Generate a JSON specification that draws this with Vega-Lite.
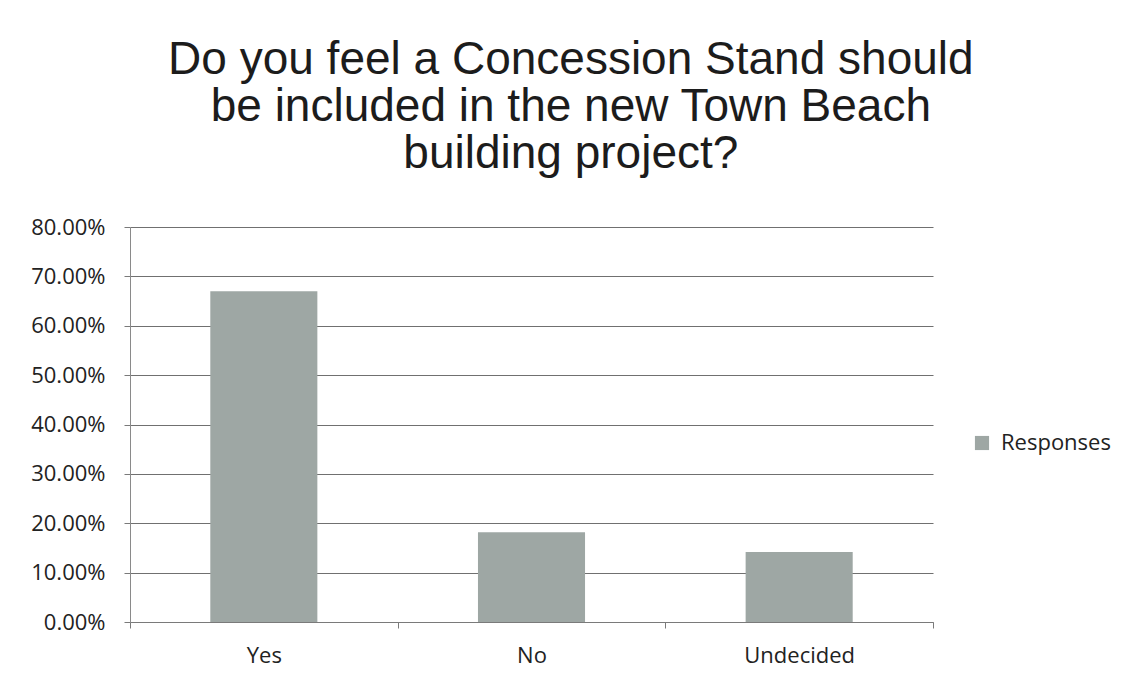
{
  "$schema": "https://vega.github.io/schema/vega-lite/v6.json",
  "width": 803,
  "height": 395,
  "padding": {"left": 30, "top": 37, "right": 10, "bottom": 10},
  "background": "white",
  "title": {
    "text": ["Do you feel a Concession Stand should", "be included in the new Town Beach", "building project?"],
    "font": "Liberation Sans, Arial, sans-serif",
    "fontSize": 46,
    "fontWeight": "normal",
    "color": "#1c1c1c",
    "lineHeight": 47,
    "anchor": "middle",
    "frame": "bounds",
    "offset": 38
  },
  "data": {
    "values": [
      {"answer": "Yes", "share": 0.67, "series": "Responses"},
      {"answer": "No", "share": 0.182, "series": "Responses"},
      {"answer": "Undecided", "share": 0.142, "series": "Responses"}
    ]
  },
  "mark": {"type": "bar", "width": {"band": 0.4}},
  "encoding": {
    "x": {
      "field": "answer",
      "type": "nominal",
      "sort": null,
      "scale": {"paddingInner": 0, "paddingOuter": 0},
      "axis": {
        "title": null,
        "labelAngle": 0,
        "tickBand": "extent",
        "ticks": true,
        "tickSize": 6,
        "tickColor": "#7a7a7a",
        "domainColor": "#7a7a7a",
        "domainWidth": 1.2,
        "labelFont": "Open Sans",
        "labelFontSize": 22,
        "labelColor": "#222222",
        "labelPadding": 17,
        "grid": false
      }
    },
    "y": {
      "field": "share",
      "type": "quantitative",
      "scale": {"domain": [0, 0.8], "nice": false},
      "axis": {
        "title": null,
        "format": ".2%",
        "values": [0, 0.1, 0.2, 0.3, 0.4, 0.5, 0.6, 0.7, 0.8],
        "grid": true,
        "gridColor": "#707070",
        "gridWidth": 1.2,
        "tickSize": 6,
        "tickColor": "#7a7a7a",
        "domainColor": "#8a8a8a",
        "labelFont": "Open Sans",
        "labelFontSize": 22,
        "labelColor": "#222222",
        "labelPadding": 19
      }
    },
    "color": {
      "field": "series",
      "type": "nominal",
      "scale": {"range": ["#9ea7a4"]},
      "legend": {
        "title": null,
        "orient": "none",
        "legendX": 841,
        "legendY": 205,
        "symbolType": "square",
        "symbolSize": 200,
        "symbolStrokeWidth": 0,
        "labelFont": "Open Sans",
        "labelFontSize": 22,
        "labelColor": "#222222",
        "labelOffset": 8
      }
    }
  },
  "config": {
    "view": {"stroke": null}
  }
}
